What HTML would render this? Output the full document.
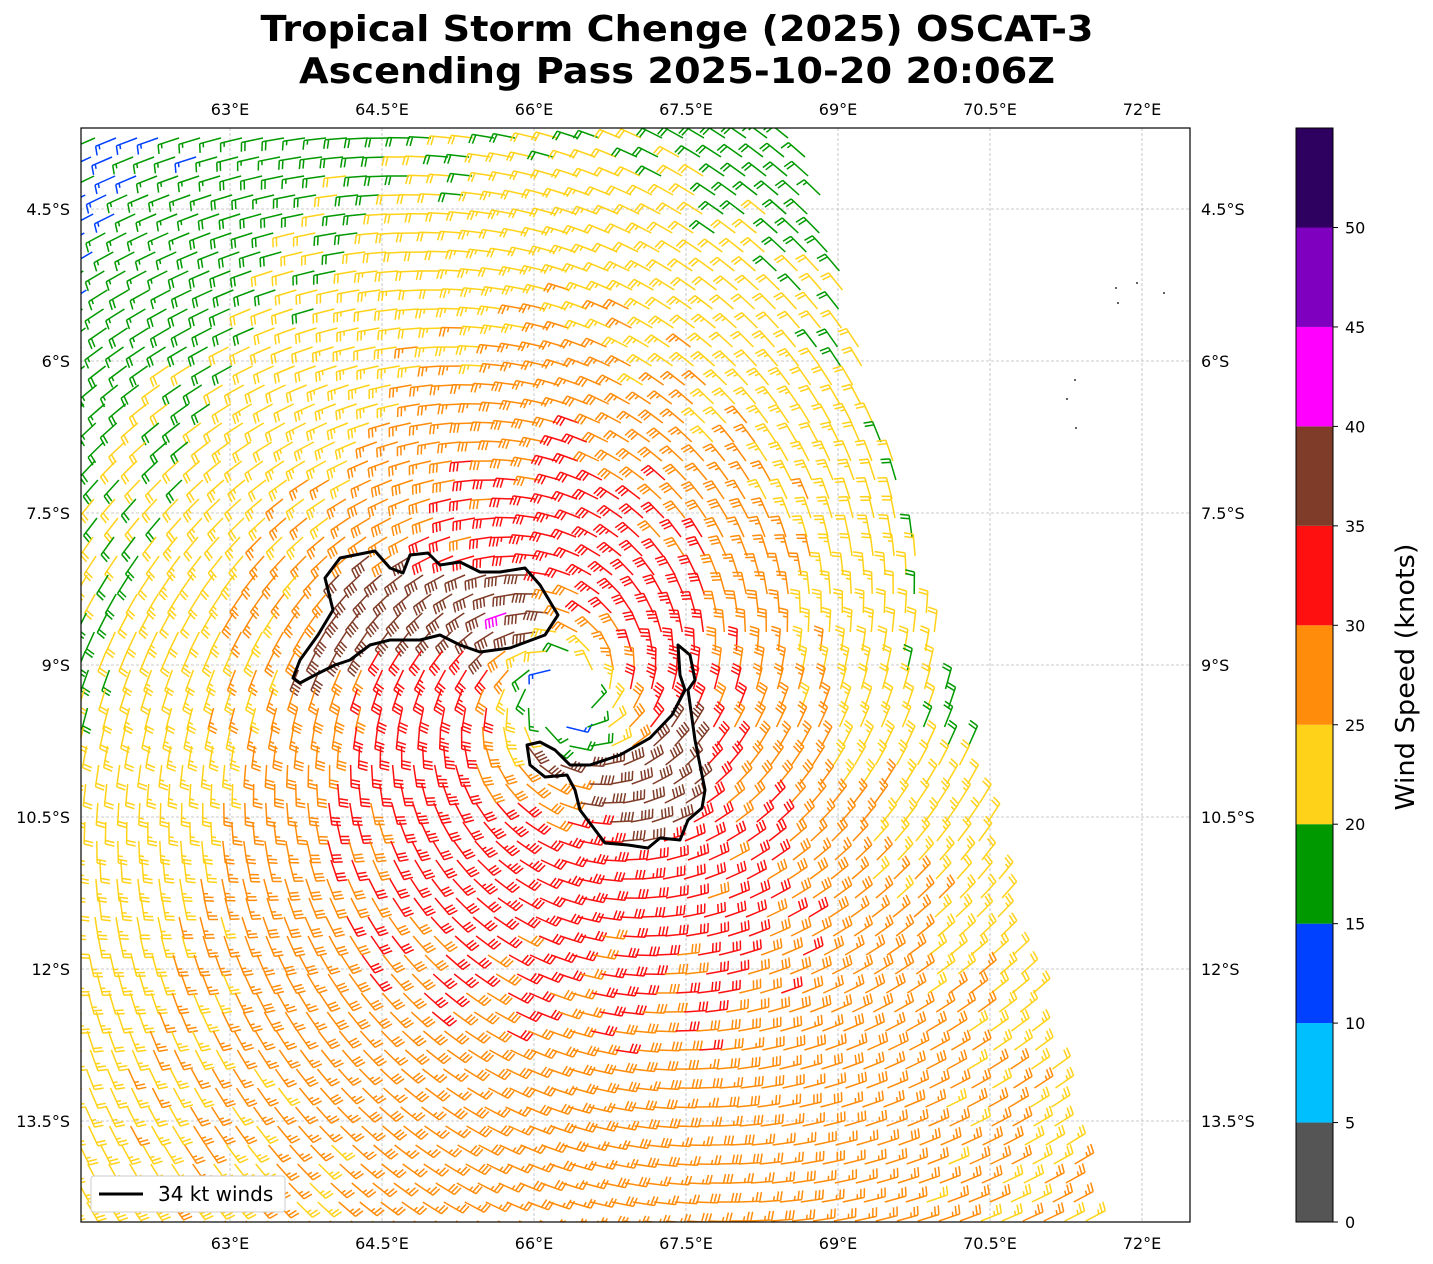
<!DOCTYPE html>
<html><head><meta charset="utf-8"><style>
body{margin:0;background:#fff;}
svg{display:block;font-family:"DejaVu Sans","Liberation Sans",sans-serif;}
</style></head><body>
<svg id="s" width="1433" height="1264" viewBox="0 0 1433 1264" xmlns="http://www.w3.org/2000/svg">
<defs><clipPath id="cp"><rect x="81" y="128" width="1109" height="1094"/></clipPath></defs>
<text x="677" y="41" font-size="36" font-weight="bold" text-anchor="middle" textLength="833" lengthAdjust="spacingAndGlyphs">Tropical Storm Chenge (2025) OSCAT-3</text>
<text x="677" y="83" font-size="36" font-weight="bold" text-anchor="middle" textLength="756" lengthAdjust="spacingAndGlyphs">Ascending Pass 2025-10-20 20:06Z</text>
<g id="grid" stroke="#bbb" stroke-width="0.8" stroke-dasharray="3,2"></g>
<g id="barbs" clip-path="url(#cp)" fill="none" stroke-width="1.5" stroke-linecap="butt"></g>
<g id="cont" fill="none" stroke="#000" stroke-width="3" stroke-linejoin="round"></g>
<rect x="81" y="128" width="1109" height="1094" fill="none" stroke="#000" stroke-width="1.2"/>
<g id="ticks" font-size="16"></g>
<g id="cb"></g>
<text transform="translate(1414,677) rotate(-90)" font-size="26" text-anchor="middle" textLength="267" lengthAdjust="spacingAndGlyphs">Wind Speed (knots)</text>
<rect x="91" y="1176" width="194" height="36" fill="#fff" stroke="#ccc" rx="3"/>
<line x1="99" y1="1194" x2="143" y2="1194" stroke="#000" stroke-width="3"/>
<text x="158" y="1201" font-size="20">34 kt winds</text>
<g fill="#333"><circle cx="1075" cy="380" r="1"/><circle cx="1067" cy="399" r="1"/><circle cx="1076" cy="428" r="1"/><circle cx="1116" cy="288" r="1"/><circle cx="1118" cy="303" r="1"/><circle cx="1137" cy="283" r="1"/><circle cx="1164" cy="293" r="1"/></g>
</svg>
<script>
const NS="http://www.w3.org/2000/svg";
function el(p,t,a,txt){const e=document.createElementNS(NS,t);for(const k in a)e.setAttribute(k,a[k]);if(txt!==undefined)e.textContent=txt;document.getElementById(p).appendChild(e);return e;}
const lonx=[230,382,534,686,838,990,1142],lonl=["63°E","64.5°E","66°E","67.5°E","69°E","70.5°E","72°E"];
const laty=[209,361,513,665,817,969,1121],latl=["4.5°S","6°S","7.5°S","9°S","10.5°S","12°S","13.5°S"];
lonx.forEach((x,i)=>{el("grid","line",{x1:x,y1:128,x2:x,y2:1222});
 el("ticks","text",{x:x,y:115,"text-anchor":"middle"},lonl[i]);el("ticks","text",{x:x,y:1249,"text-anchor":"middle"},lonl[i]);});
laty.forEach((y,i)=>{el("grid","line",{x1:81,y1:y,x2:1190,y2:y});
 el("ticks","text",{x:70,y:y+6,"text-anchor":"end"},latl[i]);el("ticks","text",{x:1201,y:y+6},latl[i]);});
const cols=["#555555","#00bfff","#0040ff","#009900","#ffd21a","#ff8c0a","#ff1010","#7f3c28","#ff00ff","#7f00bf","#2e0060"];
for(let i=0;i<11;i++){const y1=1222-i*99.45;el("cb","rect",{x:1296,y:y1-99.45,width:37,height:99.45,fill:cols[i]});
 el("cb","line",{x1:1333,y1:y1,x2:1338,y2:y1,stroke:"#000"});el("cb","text",{x:1345,y:y1+6,"font-size":16},String(i*5));}
el("cb","rect",{x:1296,y:128,width:37,height:1094,fill:"none",stroke:"#000"});
const P1=[[293,678],[300,660],[318,635],[333,610],[325,578],[340,558],[375,551],[390,568],[403,573],[410,555],[428,553],[440,565],[460,562],[480,572],[500,572],[525,568],[540,585],[558,615],[545,635],[510,648],[480,652],[460,645],[440,635],[420,640],[390,640],[370,645],[350,660],[335,665],[315,675],[300,683]];
const P2=[[678,645],[690,655],[695,680],[688,690],[695,740],[705,790],[702,808],[688,820],[680,840],[660,838],[648,848],[628,845],[605,843],[580,810],[575,790],[567,775],[545,777],[530,765],[527,745],[540,742],[555,750],[570,765],[590,765],[620,755],[650,738],[672,715],[685,690],[680,675]];
function pip(p,P){let c=false;for(let i=0,j=P.length-1;i<P.length;j=i++){const[xi,yi]=P[i],[xj,yj]=P[j];if((yi>p[1])!=(yj>p[1])&&p[0]<(xj-xi)*(p[1]-yi)/(yj-yi)+xi)c=!c;}return c;}
[P1,P2].forEach(P=>el("cont","path",{d:"M"+P.map(p=>p.join(",")).join("L")+"Z"}));
const prof=[[0,12],[40,17],[80,28],[130,33],[250,30],[350,26],[450,23],[600,19.5],[750,16],[900,13.5],[1200,12]];
function sp(r){for(let i=1;i<prof.length;i++)if(r<=prof[i][0]){const[a,b]=prof[i-1],[c,d]=prof[i];return b+(d-b)*(r-a)/(c-a);}return 12;}
const kt=[1.2,1.2,1.0,1.3,1.6,0.9,0.85,0.87,1.2];
function kf(a){const t=(a+180)/45,i=Math.min(7,Math.floor(t)),f=t-i;return kt[i]+(kt[i+1]-kt[i])*f;}
const cx=565,cy=695;let out="";
for(let y=138;y<1230;y+=19){for(let x0=88;x0<1200;x0+=21){
 const x=x0+((y/19|0)%2)*6-(y-138)*0.05+((y*7)%5);
 if(x>805+(y-128)*0.265)continue;
 const dx=x-cx,dy=y-cy,r=Math.hypot(dx,dy);if(r<28)continue;
 const k=kf(Math.atan2(dy,dx)*180/Math.PI);
 let s=sp(r*k)+Math.sin(x*0.37+y*0.21)*1.2;
 if(dy>0&&r>250)s+=0.012*(r-250)*dy/r+0.006*Math.max(0,dx)*dy/r;
 if(pip([x,y],P1)||pip([x,y],P2))s=37.5;
 if(Math.abs(x-512)<12&&Math.abs(y-612)<8)s=41;
 let vx=-dy-0.3*dx,vy=dx-0.3*dy;const vn=Math.hypot(vx,vy);
 const ux=-vx/vn,uy=-vy/vn,px=uy,py=-ux;
 const c=cols[Math.min(10,Math.max(0,Math.floor(s/5)))];
 const L=22,tx=x+ux*L,ty=y+uy*L;
 let d=`M${x.toFixed(1)},${y.toFixed(1)}L${tx.toFixed(1)},${ty.toFixed(1)}`;
 let q=Math.round(s/5)*5,full=Math.floor(q/10),half=(q%10)?1:0,o=0;
 for(let i=0;i<full;i++){const bx=tx-ux*o,by=ty-uy*o;d+=`M${bx.toFixed(1)},${by.toFixed(1)}l${(px*9+ux*2).toFixed(1)},${(py*9+uy*2).toFixed(1)}`;o+=3.6;}
 if(half){if(full==0)o=3.6;const bx=tx-ux*o,by=ty-uy*o;d+=`M${bx.toFixed(1)},${by.toFixed(1)}l${(px*4.5+ux*1).toFixed(1)},${(py*4.5+uy*1).toFixed(1)}`;}
 out+=`<path d="${d}" stroke="${c}"/>`;
}}
document.getElementById("barbs").innerHTML=out;
</script>
</body></html>
